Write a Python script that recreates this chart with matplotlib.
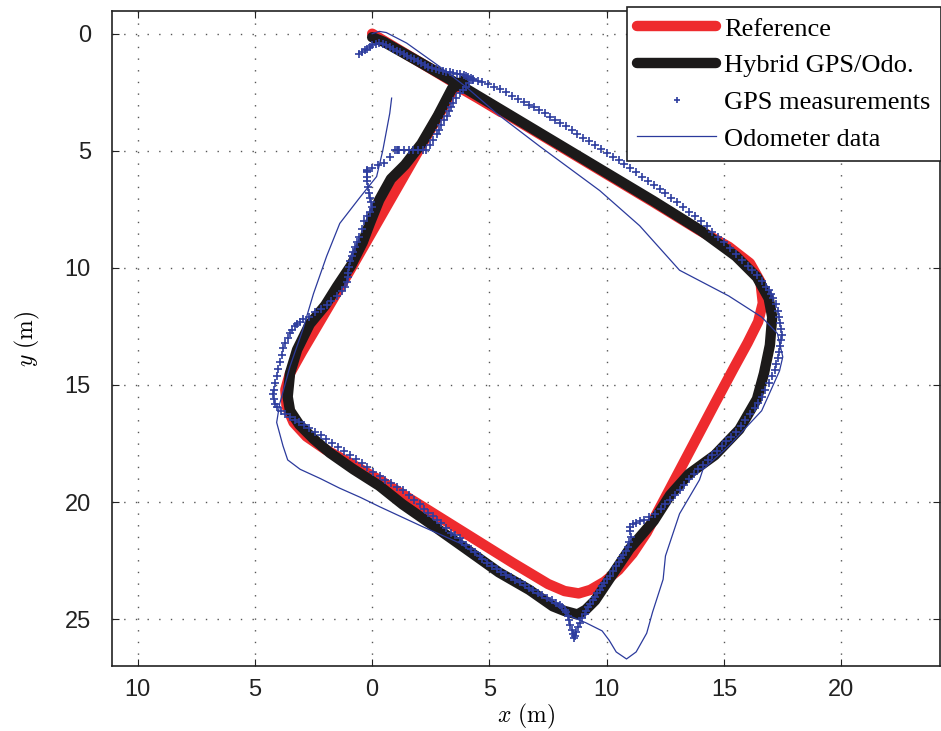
import matplotlib
matplotlib.use("Agg")
import matplotlib.pyplot as plt

# Reference trajectory (m)
ref_x = [0.0, 2.0, 4.0, 6.0, 8.0, 10.0, 12.0, 13.95, 15.2, 16.1, 16.55, 16.65, 16.45, 16.0,
         15.4, 14.6, 13.6, 12.6, 11.7, 11.1, 10.5, 9.9, 9.3, 8.8, 8.2, 7.5, 6.0, 4.0, 2.0,
         0.3, -1.0, -2.0, -2.8, -3.35, -3.65, -3.7, -3.5, -3.0, -2.0, -1.0, 0.0, 1.0, 2.0,
         3.0, 3.55, 4.5, 5.5]
ref_y = [0.0, 1.2, 2.4, 3.6, 4.8, 6.0, 7.2, 8.4, 9.1, 9.8, 10.6, 11.5, 12.3, 13.2,
         14.3, 15.8, 17.7, 19.6, 21.3, 22.2, 22.9, 23.4, 23.75, 23.9, 23.8, 23.5, 22.6, 21.35, 20.1,
         19.05, 18.3, 17.75, 17.2, 16.6, 15.9, 15.2, 14.5, 13.6, 11.9, 10.2, 8.45, 6.7, 4.95,
         3.2, 2.2, 2.75, 3.35]

# Hybrid GPS/odometer estimate
hyb_x = [0.0, 0.5, 2.0, 4.0, 6.0, 8.0, 10.0, 12.0, 14.0, 15.5, 16.4, 16.9, 17.05, 16.95,
         16.7, 16.4, 15.65, 14.6, 13.5, 12.7, 12.0, 10.97, 10.1, 9.5, 9.1, 8.75, 8.2, 7.7, 6.7,
         5.4, 4.0, 2.45, 1.3, 0.3, -0.8, -1.8, -2.5, -3.1, -3.5, -3.6, -3.5, -3.2, -2.66,
         -2.0, -1.5, -0.9, -0.4, -0.1, 0.3, 0.8, 1.4, 2.1, 2.8, 3.4, 3.9]
hyb_y = [0.15, 0.35, 1.2, 2.35, 3.55, 4.75, 5.95, 7.15, 8.4, 9.5, 10.4, 11.3, 12.1, 13.3,
         14.5, 15.6, 16.9, 18.0, 18.8, 19.7, 20.8, 22.0, 23.3, 24.2, 24.6, 24.8, 24.65, 24.45, 23.75,
         23.0, 22.0, 20.9, 20.1, 19.3, 18.6, 17.9, 17.3, 16.7, 16.1, 15.5, 14.5, 13.5, 12.4,
         11.6, 10.8, 9.9, 8.9, 8.1, 7.1, 6.2, 5.6, 4.7, 3.5, 2.35, 2.0]

# GPS fixes
gps_x = [-0.55, -0.45, -0.3, -0.2, -0.1, 0.0, 0.15, 0.3, 0.45, 0.6, 0.75, 0.9, 1.05, 1.2,
         1.35, 1.5, 1.65, 1.8, 1.95, 2.1, 2.25, 2.4, 2.55, 2.7, 2.85, 3.0, 3.15, 3.3, 3.45,
         3.6, 3.75, 3.9, 4.0, 4.1, 4.2, 4.3, 4.5, 4.7, 4.95, 5.2, 5.45, 5.7, 5.95, 6.2, 6.45,
         6.7, 6.9, 7.1, 7.35, 7.6, 7.8, 8.0, 8.25, 8.5, 8.75, 9.0, 9.25, 9.5, 9.75, 10.0,
         10.25, 10.5, 10.75, 11.0, 11.25, 11.5, 11.75, 12.0, 12.25, 12.5, 12.75, 13.0, 13.25,
         13.5, 13.75, 14.0, 14.25, 14.5, 14.75, 15.0, 15.25, 15.5, 15.75, 16.0, 16.2, 16.4,
         16.6, 16.8, 16.9, 17.0, 17.1, 17.2, 17.3, 17.35, 17.4, 17.42, 17.45, 17.43, 17.4,
         17.35, 17.3, 17.22, 17.15, 17.05, 16.9, 16.75, 16.6, 16.45, 16.3, 16.1, 15.9, 15.7,
         15.5, 15.3, 15.1, 14.9, 14.7, 14.5, 14.3, 14.1, 13.9, 13.7, 13.5, 13.3, 13.1, 12.9,
         12.7, 12.5, 12.3, 12.05, 11.8, 11.6, 11.4, 11.25, 11.1, 10.97, 11.0, 11.05, 10.95,
         10.9, 10.8, 10.7, 10.6, 10.5, 10.38, 10.25, 10.12, 10.0, 9.9, 9.8, 9.7, 9.6, 9.5,
         9.4, 9.3, 9.2, 9.12, 9.05, 8.95, 8.85, 8.78, 8.7, 8.65, 8.6, 8.55, 8.5, 8.45, 8.4,
         8.35, 8.28, 8.2, 8.1, 7.99, 7.85, 7.65, 7.45, 7.25, 7.05, 6.85, 6.7, 6.5, 6.3, 6.1,
         5.9, 5.7, 5.5, 5.3, 5.1, 4.9, 4.7, 4.58, 4.4, 4.2, 4.0, 3.85, 3.73, 3.55, 3.35,
         3.15, 2.95, 2.75, 2.58, 2.4, 2.2, 2.02, 1.8, 1.55, 1.3, 1.05, 0.8, 0.55, 0.32, 0.05,
         -0.2, -0.45, -0.7, -0.95, -1.2, -1.45, -1.7, -1.95, -2.2, -2.45, -2.7, -2.9, -3.1,
         -3.3, -3.5, -3.7, -3.9, -4.07, -4.15, -4.2, -4.24, -4.2, -4.12, -4.07, -4.0, -3.92,
         -3.85, -3.8, -3.7, -3.6, -3.5, -3.4, -3.3, -3.2, -3.08, -2.96, -2.7, -2.45, -2.2,
         -1.94, -1.75, -1.5, -1.3, -1.15, -1.09, -1.05, -1.04, -1.0, -0.96, -0.88, -0.8,
         -0.72, -0.66, -0.55, -0.45, -0.35, -0.23, -0.1, 0.0, -0.05, -0.1, -0.15, -0.19,
         -0.21, -0.23, -0.23, -0.23, -0.23, 0.0, 0.25, 0.5, 0.75, 1.04, 1.1, 0.96, 1.15,
         1.35, 1.55, 1.75, 1.95, 2.15, 2.3, 2.45, 2.6, 2.75, 2.85, 2.95, 3.05, 3.17, 3.27,
         3.35, 3.43, 3.58, 3.73, 3.87, 4.0, 4.14, 4.28]
gps_y = [0.85, 0.78, 0.7, 0.64, 0.56, 0.48, 0.42, 0.4, 0.44, 0.5, 0.58, 0.65, 0.72, 0.8,
         0.87, 0.95, 1.02, 1.1, 1.17, 1.25, 1.32, 1.4, 1.45, 1.5, 1.55, 1.6, 1.62, 1.65, 1.68,
         1.7, 1.74, 1.78, 1.82, 1.85, 1.88, 1.95, 2.0, 2.07, 2.15, 2.27, 2.38, 2.5, 2.65, 2.8,
         2.93, 3.05, 3.15, 3.26, 3.4, 3.55, 3.68, 3.8, 3.95, 4.1, 4.28, 4.45, 4.6, 4.75, 4.92,
         5.1, 5.25, 5.4, 5.58, 5.75, 5.92, 6.1, 6.28, 6.45, 6.62, 6.8, 7.0, 7.2, 7.4, 7.6,
         7.8, 8.0, 8.22, 8.45, 8.68, 8.9, 9.15, 9.4, 9.65, 9.9, 10.1, 10.3, 10.55, 10.8,
         10.95, 11.1, 11.3, 11.55, 11.85, 12.1, 12.35, 12.6, 12.85, 13.1, 13.35, 13.6, 13.85,
         14.1, 14.35, 14.6, 14.9, 15.2, 15.5, 15.75, 16.0, 16.25, 16.5, 16.75, 17.0, 17.2,
         17.4, 17.6, 17.8, 18.0, 18.2, 18.4, 18.6, 18.8, 19.0, 19.25, 19.5, 19.7, 19.9, 20.1,
         20.3, 20.5, 20.65, 20.75, 20.82, 20.88, 20.95, 21.05, 21.25, 21.5, 21.7, 21.9, 22.1,
         22.25, 22.4, 22.55, 22.75, 22.95, 23.15, 23.3, 23.45, 23.6, 23.75, 23.9, 24.05,
         24.2, 24.35, 24.5, 24.65, 24.8, 24.95, 25.15, 25.35, 25.55, 25.7, 25.8, 25.65, 25.45,
         25.25, 25.05, 24.85, 24.7, 24.6, 24.5, 24.4, 24.3, 24.2, 24.1, 23.98, 23.87, 23.76,
         23.65, 23.54, 23.43, 23.32, 23.2, 23.1, 22.98, 22.87, 22.75, 22.62, 22.45, 22.3, 22.15,
         22.0, 21.85, 21.7, 21.55, 21.4, 21.3, 21.1, 20.9, 20.75, 20.6, 20.45, 20.3, 20.1, 19.9, 19.7,
         19.5, 19.35, 19.2, 19.05, 18.88, 18.7, 18.52, 18.35, 18.18, 18.0, 17.82, 17.65, 17.48,
         17.32, 17.15, 17.0, 16.85, 16.72, 16.6, 16.5, 16.38, 16.25, 16.1, 15.95, 15.8, 15.6, 15.4,
         15.2, 14.9, 14.6, 14.3, 14.0, 13.7, 13.4, 13.2, 13.0, 12.8, 12.65, 12.5, 12.4, 12.3,
         12.2, 12.08, 11.9, 11.75, 11.6, 11.4, 11.2, 11.0, 10.8, 10.6, 10.4, 10.2,
         9.95, 9.7, 9.5, 9.3, 9.1, 8.9, 8.7, 8.35, 8.0, 7.8, 7.6, 7.4, 7.2,
         7.0, 6.8, 6.55, 6.3, 6.1, 5.9, 5.85, 5.8, 5.72, 5.6, 5.5, 5.25, 4.97, 4.97,
         4.97, 4.97, 4.97, 4.97, 4.97, 4.97, 4.97, 4.97, 4.75, 4.54, 4.3, 4.1, 3.9, 3.7, 3.5,
         3.3, 3.15, 2.97, 2.75, 2.55, 2.4, 2.27, 2.12, 1.98]

# Odometer dead reckoning
odo_x = [0.0, 0.3, 0.6, 1.47, 2.87, 4.0, 5.3, 7.13, 9.7, 11.4, 13.1, 15.2, 16.6, 17.27,
         17.5, 17.36, 16.6, 15.2, 14.1, 13.95, 13.1, 12.5, 12.4, 11.95, 11.7, 11.25, 10.84,
         10.4, 10.1, 9.8, 9.1, 8.5, 7.7, 6.7, 5.0, 3.73, 2.15, 0.32, -0.5, -1.4, -2.2,
         -3.07, -3.6, -3.8, -4.07, -3.94, -3.5, -2.96, -2.5, -1.94, -1.38, -0.53, 0.19,
         0.45, 0.6, 0.75, 0.83]
odo_y = [0.0, -0.1, -0.05, 0.4, 1.4, 2.27, 3.4, 4.8, 6.7, 8.2, 10.1, 11.2, 12.1, 12.8,
         13.8, 14.4, 16.1, 17.6, 18.6, 19.05, 20.5, 22.3, 23.3, 24.7, 25.6, 26.4, 26.7,
         26.4, 25.9, 25.5, 25.15, 24.9, 24.3, 23.75, 22.6, 21.75, 21.05, 20.2, 19.8, 19.4, 19.0,
         18.6, 18.2, 17.6, 16.6, 15.8, 14.2, 12.65, 11.1, 9.5, 8.1, 7.0, 6.1,
         5.0, 4.2, 3.4, 2.75]

x_ticks = [-10, -5, 0, 5, 10, 15, 20]
x_tick_labels = ["10", "5", "0", "5", "10", "15", "20"]
y_ticks = [0, 5, 10, 15, 20, 25]

plt.rcParams["mathtext.fontset"] = "cm"

fig = plt.figure(figsize=(9.41, 7.31), dpi=100)
ax = fig.add_axes([111.7 / 941, 65 / 731, 828.3 / 941, 655 / 731])

ax.plot(ref_x, ref_y, color="#ee2b2e", lw=7.5, solid_capstyle="round",
        solid_joinstyle="round", label="Reference", zorder=2)
ax.plot(hyb_x, hyb_y, color="#1c1a1a", lw=7.5, solid_capstyle="round",
        solid_joinstyle="round", label="Hybrid GPS/Odo.", zorder=3)
ax.plot(gps_x, gps_y, ls="none", marker="+", ms=5.5, mew=1.2, color="#2e3d9e",
        label="GPS measurements", zorder=4)
ax.plot(odo_x, odo_y, color="#2b3a9c", lw=0.9, label="Odometer data", zorder=5)

ax.set_xlim(-11.1, 24.2)
ax.set_ylim(27.0, -0.97)
ax.set_xticks(x_ticks)
ax.set_xticklabels(x_tick_labels)
ax.set_yticks(y_ticks)
ax.grid(True, color="#555555", ls=(0, (1, 7.4)), lw=1.0)
ax.tick_params(direction="in", length=5, width=0.8, top=True, right=True,
               labelsize=17, colors="#222222")
ax.tick_params(axis="x", pad=9)
ax.tick_params(axis="y", pad=15)
for lab in ax.get_xticklabels() + ax.get_yticklabels():
    lab.set_family("Liberation Sans")
for s in ax.spines.values():
    s.set_linewidth(1.2)
    s.set_color("#222222")

ax.set_xlabel(r"$x\ (\mathrm{m})$", fontsize=17, labelpad=1)
ax.set_ylabel(r"$y\ (\mathrm{m})$", fontsize=17, labelpad=16)

leg = ax.legend(loc="upper left", bbox_to_anchor=(627 / 941, 1 - 7 / 731),
                bbox_transform=fig.transFigure, borderaxespad=0, fancybox=False,
                framealpha=1, edgecolor="#222222", handlelength=3.0,
                prop={"family": "Liberation Serif", "size": 19}, labelspacing=0.5,
                borderpad=0.38, handletextpad=0.3, markerscale=0.7)
leg.get_frame().set_linewidth(1.2)

fig.savefig("out.png", dpi=100)
